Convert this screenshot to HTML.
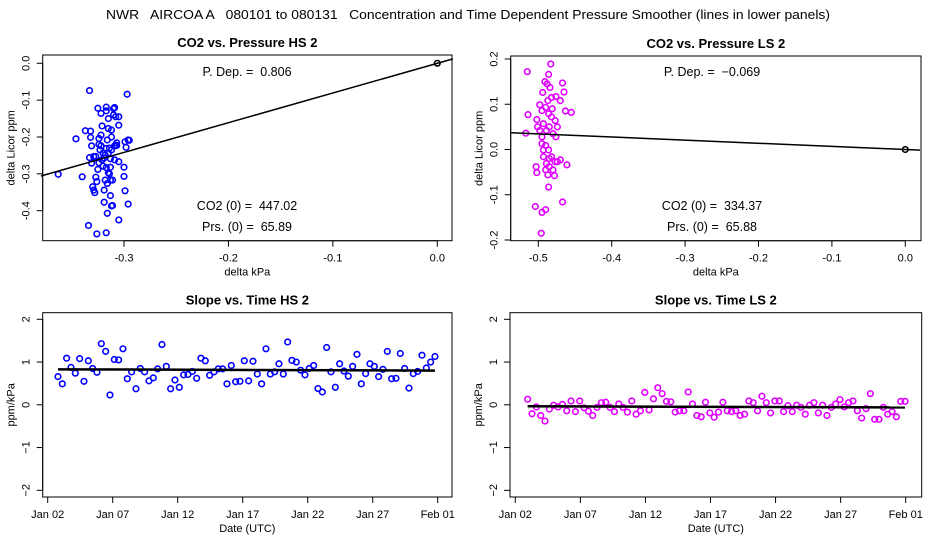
<!DOCTYPE html>
<html><head><meta charset="utf-8"><style>
html,body{margin:0;padding:0;background:#fff;}
svg{display:block;font-family:"Liberation Sans",sans-serif;}
svg text{white-space:pre;}
</style></head><body>
<svg id="chart" width="936" height="540" viewBox="0 0 936 540" xml:space="preserve">
<text x="468" y="19" text-anchor="middle" font-size="13" textLength="724" lengthAdjust="spacingAndGlyphs">NWR   AIRCOA A   080101 to 080131   Concentration and Time Dependent Pressure Smoother (lines in lower panels)</text>
</svg>
<script>
// ---- Data: top-left (HS) scatter ----
const hsX = [-0.363,-0.346,-0.340,-0.337,-0.334,-0.333,-0.332,-0.331,-0.333,-0.331,-0.332,-0.330,-0.328,-0.327,-0.327,-0.326,-0.325,-0.325,-0.324,-0.324,-0.322,-0.322,-0.321,-0.321,-0.320,-0.319,-0.319,-0.319,-0.318,-0.317,-0.317,-0.317,-0.317,-0.316,-0.316,-0.315,-0.315,-0.315,-0.314,-0.314,-0.313,-0.313,-0.313,-0.312,-0.312,-0.312,-0.311,-0.311,-0.310,-0.310,-0.309,-0.309,-0.308,-0.308,-0.307,-0.307,-0.305,-0.305,-0.305,-0.305,-0.300,-0.300,-0.299,-0.299,-0.298,-0.297,-0.296,-0.296,-0.295,-0.322,-0.324,-0.318,-0.316,-0.329,-0.323,-0.313,-0.309,-0.320,-0.315,-0.326,-0.329,-0.312,-0.317];
const hsY = [-0.301,-0.205,-0.308,-0.183,-0.440,-0.074,-0.184,-0.224,-0.256,-0.271,-0.201,-0.335,-0.351,-0.253,-0.309,-0.463,-0.288,-0.122,-0.270,-0.204,-0.195,-0.224,-0.262,-0.170,-0.279,-0.377,-0.344,-0.257,-0.249,-0.460,-0.283,-0.119,-0.129,-0.407,-0.208,-0.177,-0.150,-0.297,-0.300,-0.230,-0.282,-0.359,-0.259,-0.387,-0.200,-0.235,-0.386,-0.317,-0.140,-0.123,-0.120,-0.224,-0.145,-0.222,-0.216,-0.223,-0.425,-0.168,-0.267,-0.145,-0.282,-0.307,-0.346,-0.213,-0.228,-0.084,-0.382,-0.208,-0.209,-0.136,-0.220,-0.317,-0.326,-0.253,-0.235,-0.317,-0.262,-0.244,-0.244,-0.321,-0.344,-0.181,-0.231];
const hsSlope = 0.806;
// ---- Data: top-right (LS) scatter ----
const lsX = [-0.515,-0.514,-0.517,-0.483,-0.486,-0.467,-0.465,-0.491,-0.494,-0.498,-0.502,-0.501,-0.503,-0.502,-0.504,-0.495,-0.490,-0.496,-0.486,-0.487,-0.478,-0.467,-0.470,-0.461,-0.455,-0.463,-0.470,-0.476,-0.484,-0.495,-0.490,-0.486,-0.482,-0.477,-0.493,-0.489,-0.485,-0.480,-0.476,-0.495,-0.490,-0.486,-0.482,-0.477,-0.493,-0.489,-0.485,-0.480,-0.490,-0.495,-0.482,-0.487,-0.498,-0.474,-0.481,-0.485,-0.493,-0.488,-0.474];
const lsY = [0.172,0.077,0.036,0.189,0.166,0.147,0.127,0.150,0.126,0.099,0.066,0.050,-0.038,-0.051,-0.126,-0.139,-0.133,-0.185,-0.083,-0.056,-0.058,-0.116,-0.023,-0.034,0.082,0.085,0.108,0.117,0.137,0.086,0.093,0.079,0.072,0.064,0.057,0.042,0.050,0.035,0.028,0.028,0.009,-0.001,-0.016,-0.027,-0.016,-0.031,-0.038,-0.045,-0.045,0.013,0.115,0.108,0.042,0.050,0.090,-0.020,-0.001,0.145,-0.027];
const lsSlope = -0.069;
// ---- Data: bottom panels (slope vs time), 3 per day ----
const hsStartDay = 0.79;
const hsSlopes = [0.66,0.49,1.09,0.875,0.74,1.08,0.55,1.03,0.85,0.76,1.43,1.25,0.23,1.06,1.05,1.31,0.61,0.77,0.375,0.85,0.77,0.56,0.63,0.84,1.41,0.9,0.375,0.58,0.41,0.70,0.71,0.78,0.62,1.09,1.03,0.69,0.77,0.84,0.84,0.49,0.92,0.54,0.55,1.03,0.56,1.02,0.72,0.49,1.31,0.72,0.77,0.96,0.72,1.47,1.04,1.0,0.81,0.70,0.85,0.92,0.38,0.30,1.34,0.77,0.41,0.96,0.79,0.67,0.9,1.18,0.49,0.73,0.96,0.9,0.66,0.83,1.25,0.61,0.62,1.2,0.85,0.39,0.73,0.78,1.16,0.86,1.0,1.13];
const hsSmooth = [0.83,0.80];
const lsStartDay = 0.95;
const lsSlopes = [0.13,-0.21,-0.05,-0.25,-0.38,-0.1,-0.01,-0.05,0.01,-0.14,0.09,-0.16,0.09,-0.07,-0.15,-0.25,-0.06,0.05,0.06,-0.06,-0.16,0.02,-0.06,-0.17,0.09,-0.22,-0.14,0.29,-0.12,0.14,0.4,0.26,0.08,0.07,-0.17,-0.14,-0.14,0.3,0.02,-0.25,-0.28,0.06,-0.19,-0.29,-0.17,0.06,-0.14,-0.16,-0.14,-0.25,-0.22,0.09,0.05,-0.14,0.2,0.05,-0.19,0.09,0.09,-0.16,-0.02,-0.16,-0.01,-0.06,-0.22,-0.01,0.05,-0.19,-0.01,-0.25,-0.06,0.02,0.12,-0.05,0.05,0.09,-0.14,-0.31,-0.09,0.26,-0.34,-0.34,-0.06,-0.22,-0.16,-0.28,0.08,0.08];
const lsSmooth = [-0.035,-0.06];
// ---- Ticks ----
const tlYTicks = [0.0,-0.1,-0.2,-0.3,-0.4];
const tlXTicks = [-0.3,-0.2,-0.1,0.0];
const trYTicks = [0.2,0.1,0.0,-0.1,-0.2];
const trXTicks = [-0.5,-0.4,-0.3,-0.2,-0.1,0.0];
const slopeYTicks = [2,1,0,-1,-2];
const dayTicks = [0,5,10,15,20,25,30];
const dayLabels = ["Jan 02","Jan 07","Jan 12","Jan 17","Jan 22","Jan 27","Feb 01"];

const svg = document.getElementById('chart');
const NS = 'http://www.w3.org/2000/svg';
function mk(tag, attrs, parent){
  const e = document.createElementNS(NS, tag);
  for (const k in attrs) e.setAttribute(k, attrs[k]);
  (parent||svg).appendChild(e);
  return e;
}
function lin(d0,d1,r0,r1){ return v => r0 + (v-d0)*(r1-r0)/(d1-d0); }

function panel(o){
  const g = mk('g', {});
  
  
  const box = mk('rect', {x:o.L, y:o.T, width:o.R-o.L, height:o.B-o.T, fill:'none', stroke:'#000', 'stroke-width':1}, g);
  
  
  const t = mk('text', {x:(o.L+o.R)/2, y:o.T-8, 'text-anchor':'middle', 'font-size':13, 'font-weight':'bold'}, g);
  t.textContent = o.title;
  
  
  const ya = mk('line', {x1:o.L, x2:o.L, y1:o.sy(o.yTicks[0]), y2:o.sy(o.yTicks[o.yTicks.length-1]), stroke:'#000'}, g);
  
  
  o.yTicks.forEach(v => {
    const y = o.sy(v);
    const tk = mk('line', {x1:o.L-6, x2:o.L, y1:y, y2:y, stroke:'#000'}, g);
    
    
    const tx = mk('text', {x:0, y:0, 'text-anchor':'middle', 'font-size':11, transform:`translate(${o.L-13},${y}) rotate(-90)`}, g);
    tx.textContent = o.yFmt(v);
    
    
  });
  const xa = mk('line', {x1:o.sx(o.xTicks[0]), x2:o.sx(o.xTicks[o.xTicks.length-1]), y1:o.B, y2:o.B, stroke:'#000'}, g);
  
  
  o.xTicks.forEach((v,i) => {
    const x = o.sx(v);
    const tk = mk('line', {x1:x, x2:x, y1:o.B, y2:o.B+6, stroke:'#000'}, g);
    
    
    const tx = mk('text', {x:x, y:o.B+21, 'text-anchor':'middle', 'font-size':11}, g);
    tx.textContent = o.xFmt(v,i);
    
    
  });
  const xl = mk('text', {x:(o.L+o.R)/2, y:o.B+35, 'text-anchor':'middle', 'font-size':11}, g);
  xl.textContent = o.xLabel;
  
  
  const yl = mk('text', {x:0, y:0, 'text-anchor':'middle', 'font-size':11, transform:`translate(${o.L-28},${(o.T+o.B)/2}) rotate(-90)`}, g);
  yl.textContent = o.yLabel;
  
  
  return g;
}
function dot(g, x, y, color){
  const c = mk('circle', {cx:x, cy:y, r:2.8, fill:'none', stroke:color, 'stroke-width':1.6}, g);
  
  
}
function note(g, x, y, s, name){
  const t = mk('text', {x:x, y:y, 'text-anchor':'middle', 'font-size':12.5}, g);
  t.textContent = s;
  
  
}
const f1 = v => v.toFixed(1);
const fi = v => String(v);

{
  const L=42.7,R=452,T=55,B=240.7;
  const sx = lin(-0.3,0.0,124,437.3), sy = lin(0,-0.4,63.3,210.7);
  const g = panel({name:'panel-co2-vs-pressure-hs', L,R,T,B,sx,sy,title:'CO2 vs. Pressure HS 2', yTicks:tlYTicks, xTicks:tlXTicks, yFmt:f1, xFmt:f1, xLabel:'delta kPa', yLabel:'delta Licor ppm'});
  hsX.forEach((v,i)=>dot(g, sx(v), sy(hsY[i]), '#0000ff'));
  dot(g, sx(0), sy(0), '#000');
  const x0=-0.3795, x1=0.015;
  const ln = mk('line', {x1:sx(x0), y1:sy(hsSlope*x0), x2:sx(x1), y2:sy(hsSlope*x1), stroke:'#000', 'stroke-width':1.5}, g);
  
  
  note(g, 247, 76, 'P. Dep. =  ' + hsSlope.toFixed(3), 'pdep-label');
  note(g, 247, 210, 'CO2 (0) =  447.02', 'co2-zero-label');
  note(g, 247, 231, 'Prs. (0) =  65.89', 'prs-zero-label');
}
{
  const L=510.7,R=921,T=56,B=240.7;
  const sx = lin(-0.5,0.0,538.3,905.3), sy = lin(0.2,-0.2,59,240);
  const g = panel({name:'panel-co2-vs-pressure-ls', L,R,T,B,sx,sy,title:'CO2 vs. Pressure LS 2', yTicks:trYTicks, xTicks:trXTicks, yFmt:f1, xFmt:f1, xLabel:'delta kPa', yLabel:'delta Licor ppm'});
  lsX.forEach((v,i)=>dot(g, sx(v), sy(lsY[i]), '#e000ff'));
  dot(g, sx(0), sy(0), '#000');
  const x0=-0.537, x1=0.02;
  const ln = mk('line', {x1:sx(x0), y1:sy(lsSlope*x0), x2:sx(x1), y2:sy(lsSlope*x1), stroke:'#000', 'stroke-width':1.5}, g);
  
  
  note(g, 712, 76, 'P. Dep. =  \u2212' + Math.abs(lsSlope).toFixed(3), 'pdep-label');
  note(g, 712, 210, 'CO2 (0) =  334.37', 'co2-zero-label');
  note(g, 712, 231, 'Prs. (0) =  65.88', 'prs-zero-label');
}
function slopePanel(name, title, L, R, d0x, d30x, start, vals, smooth, color){
  const T=312.7,B=497;
  const sx = lin(0,30,d0x,d30x), sy = lin(2,-2,319.3,490.3);
  const g = panel({name, L,R,T,B,sx,sy,title, yTicks:slopeYTicks, xTicks:dayTicks, yFmt:v=> v<0 ? '\u2212'+Math.abs(v) : fi(v), xFmt:(v,i)=>dayLabels[i], xLabel:'Date (UTC)', yLabel:'ppm/kPa'});
  vals.forEach((v,i)=>dot(g, sx(start+i/3), sy(v), color));
  const last = start+(vals.length-1)/3;
  const ln = mk('line', {x1:sx(start), y1:sy(smooth[0]), x2:sx(last), y2:sy(smooth[1]), stroke:'#000', 'stroke-width':2.5}, g);
  
  
}
slopePanel('panel-slope-vs-time-hs','Slope vs. Time HS 2',42.7,452,47.7,437.7,hsStartDay,hsSlopes,hsSmooth,'#0000ff');
slopePanel('panel-slope-vs-time-ls','Slope vs. Time LS 2',510,921.7,515.3,905.7,lsStartDay,lsSlopes,lsSmooth,'#e000ff');
</script>
</body></html>
